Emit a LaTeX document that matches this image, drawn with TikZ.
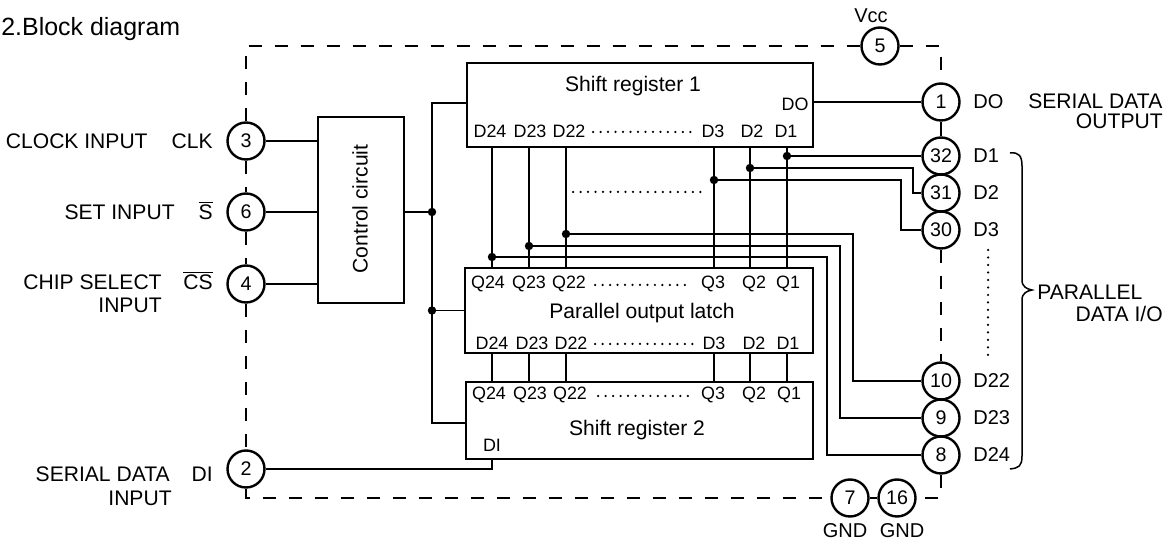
\documentclass[tikz,border=0pt]{standalone}
\usepackage{fontspec}
\setmainfont{Liberation Sans}
\usetikzlibrary{positioning,calc}

\tikzset{
  pinc/.style={circle, draw, line width=0.048cm, minimum size=0.74cm, inner sep=0pt, font=\fontsize{11.2}{13}\selectfont},
  blk/.style={draw, line width=0.05cm, inner sep=0pt},
  wire/.style={line width=0.03cm},
  frame/.style={line width=0.045cm, dash pattern=on 0.26cm off 0.26cm},
  lbl/.style={inner sep=0pt, font=\fontsize{12}{14}\selectfont},
  tag/.style={inner sep=0pt, font=\fontsize{11.4}{13}\selectfont},
  sub/.style={inner sep=0pt, font=\fontsize{10.2}{12}\selectfont},
  dotrow/.style={line width=0.05cm, line cap=round, dash pattern=on 0pt off 0.15cm},
}

\begin{document}
\begin{tikzpicture}[x=0.02cm, y=-0.02cm]
			\useasboundingbox (0,0) rectangle (1169,546);
			\node[anchor=base west, inner sep=0pt, font=\fontsize{14.2}{16}\selectfont] (title) at (1,36) {2.Block diagram};
			
			% Package pins
			\node[pinc] (p3) at (246,141) {3};
			\node[pinc] (p6) at (246,212) {6};
			\node[pinc] (p4) at (246,284) {4};
			\node[pinc] (p2) at (246,469) {2};
			\node[pinc] (p5) at (880,46) {5};
			\node[pinc] (p1) at (941,102) {1};
			\node[pinc] (p32) at (941,156) {32};
			\node[pinc] (p31) at (941,193) {31};
			\node[pinc] (p30) at (941,230) {30};
			\node[pinc] (p10) at (941,381) {10};
			\node[pinc] (p9) at (941,418) {9};
			\node[pinc] (p8) at (941,455) {8};
			\node[pinc] (p7) at (850,498) {7};
			\node[pinc] (p16) at (897,498) {16};
			
			% Dashed package outline
			\coordinate (tl) at (246,46);
			\coordinate (tr) at (941,46);
			\coordinate (bl) at (246,498);
			\coordinate (br) at (941,498);
			\draw[frame] (p3.north) -- (tl) -- (p5.west);
			\draw[frame] (p5.east) -- (tr) -- (p1.north);
			\draw[frame] (p3.south) -- (p6.north);
			\draw[frame] (p6.south) -- (p4.north);
			\draw[frame] (p4.south) -- (p2.north);
			\draw[frame] (p2.south) -- (bl) -- (p7.west);
			\draw[frame] (p7.east) -- (p16.west);
			\draw[frame] (p8.south) -- (br) -- (p16.east);
			\draw[line width=0.04cm] (p1.south) -- (p32.north);
			\draw[frame] (p30.south) -- (p10.north);
			
			% Blocks
			\node[blk, minimum width=1.72cm, minimum height=3.72cm] (ctrl) at (361,210) {};
			\node[lbl, rotate=90] (ctrl-t) at (360,209) {Control circuit};
			\node[blk, minimum width=6.92cm, minimum height=1.68cm] (sra) at (640,105) {};
			\node[blk, minimum width=6.96cm, minimum height=1.70cm] (latch) at (639,310.5) {};
			\node[blk, minimum width=6.94cm, minimum height=1.54cm] (srb) at (639.5,420.5) {};
			
			% Shift register 1
			\node[lbl] (sra-t) at (633,86) {Shift register 1};
			\node[sub] (sra-do) at (795,104) {DO};
			\foreach \t/\x in {D24/490,D23/530,D22/569,D3/713,D2/752,D1/786}
				\node[sub] (sra-\t) at (\x,131.5) {\t};
			\draw[dotrow] (593,132) -- (692,132);
			
			% Parallel output latch
			\node[lbl] (latch-t) at (642,313) {Parallel output latch};
			\foreach \t/\x in {Q24/488,Q23/529,Q22/569,Q3/713,Q2/754,Q1/788}
				\node[sub] (latch-\t) at (\x,284) {\t};
			\foreach \t/\x in {D24/492,D23/532,D22/571,D3/714,D2/754,D1/788}
				\node[sub] (latch-\t) at (\x,343) {\t};
			\draw[dotrow] (595,285) -- (686,285);
			\draw[dotrow] (595,344) -- (693,344);
			
			% Shift register 2
			\node[lbl] (srb-t) at (637,430) {Shift register 2};
			\node[sub] (srb-di) at (492,445) {DI};
			\foreach \t/\x in {Q24/489,Q23/530,Q22/570,Q3/713,Q2/754,Q1/789}
				\node[sub] (srb-\t) at (\x,395) {\t};
			\draw[dotrow] (598,396) -- (693,396);
			
			% Control inputs
			\draw[wire] (p3) -- (p3 -| ctrl.west);
			\draw[wire] (p6) -- (p6 -| ctrl.west);
			\draw[wire] (p4) -- (p4 -| ctrl.west);
			
			% Clock bus
			\coordinate (bus-t) at (432,103);
			\coordinate (bus-b) at (432,423);
			\draw[wire] (sra.west |- bus-t) -- (bus-t) -- (bus-b) -- (srb.west |- bus-b);
			\draw[wire] (ctrl.east |- p6) -- (bus-t |- p6);
			\draw[wire] (latch.west) -- (latch.west -| bus-t);
			\fill (bus-t |- p6) circle (2.4pt);
			\fill (latch.west -| bus-t) circle (2.4pt);
			
			% Serial data
			\draw[wire] (sra.east |- p1) -- (p1);
			\draw[wire] (p2) -- (p2 -| 492,0) -- (srb.south -| 492,0);
			
			% Parallel links
			\foreach \n/\x in {24/492,23/529,22/566,3/714,2/750,1/787} {
				\coordinate (b\n) at (\x,0);
				\draw[wire] (sra.south -| b\n) -- (latch.north -| b\n);
				\draw[wire] (latch.south -| b\n) -- (srb.north -| b\n);
			}
			\draw[dotrow] (573,192) -- (703,192);
			
			% Taps to the I/O pins
			\coordinate (k2) at (913,168);
			\coordinate (k3) at (901,180);
			\coordinate (k22) at (853,234);
			\coordinate (k23) at (840,246);
			\coordinate (k24) at (827,257);
			\draw[wire] (b1 |- p32) -- (p32);
			\draw[wire] (b2 |- k2) -- (k2) |- (p31);
			\draw[wire] (b3 |- k3) -- (k3) |- (p30);
			\draw[wire] (b22 |- k22) -- (k22) |- (p10);
			\draw[wire] (b23 |- k23) -- (k23) |- (p9);
			\draw[wire] (b24 |- k24) -- (k24) |- (p8);
			\foreach \j in {b1 |- p32, b2 |- k2, b3 |- k3, b22 |- k22, b23 |- k23, b24 |- k24}
				\fill (\j) circle (2.4pt);
			
			% Left labels
			\node[lbl, anchor=base east] (clk-n) at (148,149) {CLOCK INPUT};
			\node[lbl, anchor=base east] (clk-s) at (213,149) {CLK};
			\node[lbl, anchor=base east] (set-n) at (175,220) {SET INPUT};
			\node[lbl, anchor=base east] (set-s) at (213,220) {$\overline{\hbox{S}}$};
			\node[lbl, anchor=base east] (cs-n) at (162,290) {CHIP SELECT};
			\node[lbl, anchor=base east] (cs-m) at (162,313) {INPUT};
			\node[lbl, anchor=base east] (cs-s) at (213,290) {$\overline{\hbox{CS}}$};
			\node[lbl, anchor=base east] (di-n) at (170,482) {SERIAL DATA};
			\node[lbl, anchor=base east] (di-m) at (172,506) {INPUT};
			\node[lbl, anchor=base east] (di-s) at (213,482) {DI};
			
			% Right labels
			\node[tag, anchor=base west] (do-s) at (973,109) {DO};
			\node[lbl, anchor=base west] (do-n) at (1028,109) {SERIAL DATA};
			\node[lbl, anchor=base east] (do-m) at (1163,129) {OUTPUT};
			\foreach \p/\t in {p32/D1,p31/D2,p30/D3,p10/D22,p9/D23,p8/D24}
				\node[tag, anchor=west] (l-\p) at ($(\p)+(32,0)$) {\t};
			\draw[dotrow] (988,250) -- (988,356);
			\draw[line width=0.03cm] (1010,153) .. controls (1019,152) and (1022,156) .. (1022,166) -- (1022,280)
				.. controls (1022,287) and (1027,289) .. (1032,290) .. controls (1027,291) and (1022,293) .. (1022,300)
				-- (1022,456) .. controls (1022,466) and (1019,468) .. (1010,469);
			\node[lbl, anchor=base west] (pio-n) at (1037,300) {PARALLEL};
			\node[lbl, anchor=base east] (pio-m) at (1163,322) {DATA I/O};
			
			% Supply labels
			\node[tag, anchor=base] (vcc) at (871,23) {Vcc};
			\node[tag, anchor=base] (gnd-a) at (845,538) {GND};
			\node[tag, anchor=base] (gnd-b) at (902,538) {GND};
		\end{tikzpicture}
\end{document}
